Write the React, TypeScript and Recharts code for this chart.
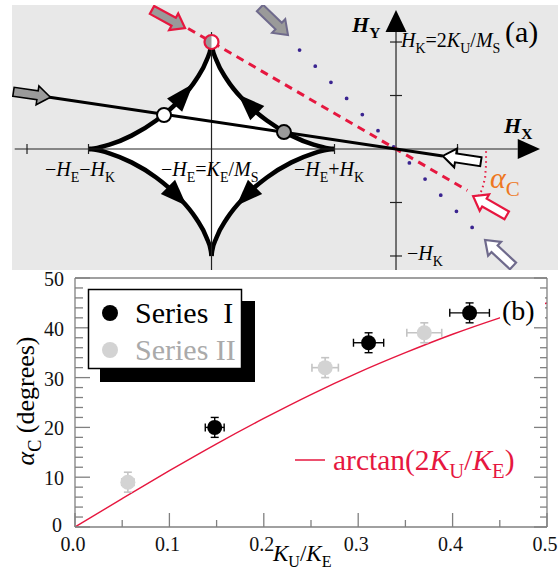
import React from 'react';
import { ComposedChart, Area, Line, Scatter, XAxis, YAxis, ErrorBar } from 'recharts';

const SERIF = "'Liberation Serif', 'Times New Roman', Times, serif";
const RED = '#e6173f';
const PURPLE = '#3a2490';
const SLATE = '#6f6a8c';
const ORANGE = '#ee7722';
const AXIS = '#808080';

// ---------- (a) field plane, in units of H_K (astroid centred on -H_E) ----------
const HE = -1.5;
const arcDx = [1, 0.955, 0.83, 0.65, 0.45, 0.266, 0.125, 0.04, 0.005, 0];
const arcDy = [0, 0.005, 0.04, 0.125, 0.266, 0.45, 0.65, 0.83, 0.955, 1];

const upperLeft = arcDx.map((d, i) => ({ x: HE - d, y: arcDy[i] }));
const upperRight = arcDx.map((d, i) => ({ x: HE + d, y: arcDy[i] })).reverse();
const lowerLeft = upperLeft.map((p) => ({ x: p.x, y: -p.y }));
const lowerRight = upperRight.map((p) => ({ x: p.x, y: -p.y }));
const arcs = [upperLeft, upperRight, lowerLeft, lowerRight];

const hxAxisLine = [{ x: -3.1, y: 0 }, { x: 0.99, y: 0 }];
const hyAxisLine = [{ x: 0, y: -1.131 }, { x: 0, y: 1.093 }];
const centreLine = [{ x: HE, y: -1.131 }, { x: HE, y: 1.093 }];
const hxTicks = [-3, -2.5, -0.5, 0.5].map((x) => ({ x, y: 0 }));
const hyTicks = [1, 0.5, -0.5, -1].map((y) => ({ x: 0, y }));

const fieldPath = [{ x: -2.83, y: 0.487 }, { x: 0.38, y: -0.065 }];
const criticalPath = [{ x: -1.69, y: 1.127 }, { x: 0.58, y: -0.387 }];
const steepPath = [{ x: -0.784, y: 0.925 }, { x: 0.621, y: -0.736 }];
const alphaArc = [
  { x: 0.732, y: -0.02 }, { x: 0.732, y: -0.15 }, { x: 0.724, y: -0.27 },
  { x: 0.7, y: -0.38 }, { x: 0.67, y: -0.44 },
];

const whiteDot = [{ x: -1.886, y: 0.318 }];
const greyDot = [{ x: -0.911, y: 0.158 }];
const cuspDot = [{ x: HE, y: 1 }];

// base -> tip of the sweep arrowheads on the astroid
const sweepHeads = [
  [{ x: -1.8, y: 0.41 }, { x: -1.649, y: 0.61 }],
  [{ x: -1.128, y: 0.335 }, { x: -1.282, y: 0.509 }],
  [{ x: -1.854, y: -0.354 }, { x: -1.703, y: -0.53 }],
  [{ x: -1.146, y: -0.354 }, { x: -1.297, y: -0.53 }],
];
const hxHead = [{ x: 0.99, y: 0 }, { x: 1.171, y: 0 }];
const hyHead = [{ x: 0, y: 1.093 }, { x: 0, y: 1.299 }];

// tail -> tip of the field-direction block arrows
const arrowLeft = [{ x: -3.11, y: 0.535 }, { x: -2.81, y: 0.484 }];
const arrowRight = [{ x: 0.69, y: -0.119 }, { x: 0.38, y: -0.065 }];
const arrowRedTop = [{ x: -1.984, y: 1.3 }, { x: -1.715, y: 1.131 }];
const arrowRedLow = [{ x: 0.9, y: -0.62 }, { x: 0.627, y: -0.44 }];
const arrowSlateTop = [{ x: -1.106, y: 1.318 }, { x: -0.878, y: 1.065 }];
const arrowSlateLow = [{ x: 0.951, y: -1.093 }, { x: 0.724, y: -0.85 }];

// ---------- (b) critical angle vs K_U/K_E ----------
const kTicks = [0, 0.05, 0.1, 0.15, 0.2, 0.25, 0.3, 0.35, 0.4, 0.45, 0.5];
const aTicks = [0, 2, 4, 6, 8, 10, 12, 14, 16, 18, 20, 22, 24, 26, 28, 30, 32, 34, 36, 38, 40, 42, 44, 46, 48, 50];

const kSeriesI = [0.148, 0.311, 0.418];
const alphaSeriesI = [20, 37, 43];
const kErrSeriesI = [0.01, 0.016, 0.021];
const kSeriesII = [0.056, 0.265, 0.37];
const alphaSeriesII = [9, 32, 39];
const kErrSeriesII = [0.0065, 0.014, 0.0185];
const alphaErr = 2;

const fitK = [0, 0.05, 0.1, 0.15, 0.2, 0.25, 0.3, 0.35, 0.4, 0.45, 0.5];
const fitAlpha = [0, 5.7, 11.3, 16.7, 21.8, 26.6, 31.0, 35.0, 38.7, 42.0, 45.0];

const seriesI = kSeriesI.map((x, i) => ({ x, y: alphaSeriesI[i], ex: kErrSeriesI[i], ey: alphaErr }));
const seriesII = kSeriesII.map((x, i) => ({ x, y: alphaSeriesII[i], ex: kErrSeriesII[i], ey: alphaErr }));
const fit = fitK.map((x, i) => ({ x, y: fitAlpha[i] }));

// ---------- helpers ----------
type Seg = [string, string?];

function Rich({ x, y, size, segs, fill = '#000', anchor = 'start', rotate, drop = 0.28 }: any) {
  const shift = size * drop;
  let low = false;
  return (
    <text
      x={x}
      y={y}
      fontSize={size}
      fill={fill}
      fontFamily={SERIF}
      textAnchor={anchor}
      transform={rotate ? `rotate(${rotate} ${x} ${y})` : undefined}
    >
      {(segs as Seg[]).map(([t, s = ''], k) => {
        const sub = s.includes('s');
        const dy = sub && !low ? shift : !sub && low ? -shift : 0;
        low = sub;
        return (
          <tspan
            key={k}
            dy={dy || undefined}
            fontSize={sub ? size * 0.7 : size}
            fontStyle={s.includes('i') ? 'italic' : 'normal'}
            fontWeight={s.includes('b') ? 'bold' : 'normal'}
          >
            {t}
          </tspan>
        );
      })}
    </text>
  );
}

const NoMark = () => <g />;

const blockArrow = (fill: string, stroke: string, sw = 2) => (p: any) => {
  const [a, b] = p.points;
  const dx = b.x - a.x;
  const dy = b.y - a.y;
  const L = Math.hypot(dx, dy) || 1;
  const ux = dx / L, uy = dy / L;
  const nx = -uy, ny = ux;
  const bw = 4.5, hw = 9.5, hl = 13;
  const at = (s: number, w: number) => `${a.x + ux * s + nx * w},${a.y + uy * s + ny * w}`;
  const pts = [at(0, bw), at(L - hl, bw), at(L - hl, hw), at(L, 0), at(L - hl, -hw), at(L - hl, -bw), at(0, -bw)].join(' ');
  return <polygon points={pts} fill={fill} stroke={stroke} strokeWidth={sw} />;
};

const triHead = (half: number) => (p: any) => {
  const [a, b] = p.points;
  const dx = b.x - a.x;
  const dy = b.y - a.y;
  const L = Math.hypot(dx, dy) || 1;
  const nx = (-dy / L) * half, ny = (dx / L) * half;
  return <polygon points={`${a.x + nx},${a.y + ny} ${b.x},${b.y} ${a.x - nx},${a.y - ny}`} fill="#000" />;
};

const HxTick = (p: any) => <line x1={p.cx} x2={p.cx} y1={p.cy - 5} y2={p.cy + 5} stroke="#222" strokeWidth={1.2} />;
const HyTick = (p: any) => <line x1={p.cx - 6} x2={p.cx + 6} y1={p.cy} y2={p.cy} stroke="#222" strokeWidth={1.2} />;

const OpenDot = (fill: string) => (p: any) => (
  <circle cx={p.cx} cy={p.cy} r={7} fill={fill} stroke="#000" strokeWidth={2} />
);

const CuspRing = (p: any) => (
  <g>
    <circle cx={p.cx} cy={p.cy} r={7} fill="#fff" />
    <path d={`M${p.cx},${p.cy - 7} A7,7 0 0 0 ${p.cx},${p.cy + 7} Z`} fill="#999" />
    <circle cx={p.cx} cy={p.cy} r={7} fill="none" stroke={RED} strokeWidth={2.2} />
  </g>
);

const plain = { dot: false, activeDot: false, isAnimationActive: false, type: 'linear' as const };

function PanelA() {
  return (
    <ComposedChart width={546} height={265} margin={{ top: 0, right: 0, bottom: 0, left: 0 }}>
      <XAxis type="number" dataKey="x" domain={[-3.122, 1.317]} allowDataOverflow hide />
      <YAxis type="number" domain={[-1.131, 1.346]} allowDataOverflow hide width={0} />
      {arcs.map((d, k) => (
        <Area
          key={k}
          data={d}
          dataKey="y"
          type="monotone"
          baseValue={0}
          fill="#fff"
          fillOpacity={1}
          stroke="#000"
          strokeWidth={4.5}
          dot={false}
          activeDot={false}
          isAnimationActive={false}
        />
      ))}
      <Line data={hxAxisLine} dataKey="y" stroke="#222" strokeWidth={1.2} {...plain} />
      <Line data={hyAxisLine} dataKey="y" stroke="#222" strokeWidth={1.2} {...plain} />
      <Line data={centreLine} dataKey="y" stroke="#222" strokeWidth={1.2} {...plain} />
      <Line data={steepPath} dataKey="y" stroke={PURPLE} strokeWidth={3.8} strokeDasharray="0 22.5" strokeLinecap="round" {...plain} />
      <Line data={criticalPath} dataKey="y" stroke={RED} strokeWidth={3} strokeDasharray="8 6" {...plain} />
      <Line data={alphaArc} dataKey="y" stroke={RED} strokeWidth={2} strokeDasharray="1.5 3.5" {...plain} />
      <Line data={fieldPath} dataKey="y" stroke="#000" strokeWidth={3} {...plain} />

      <Scatter data={hxTicks} dataKey="y" shape={HxTick} isAnimationActive={false} />
      <Scatter data={hyTicks} dataKey="y" shape={HyTick} isAnimationActive={false} />
      <Scatter data={hxHead} dataKey="y" shape={NoMark} line={triHead(10)} isAnimationActive={false} />
      <Scatter data={hyHead} dataKey="y" shape={NoMark} line={triHead(10.5)} isAnimationActive={false} />
      {sweepHeads.map((d, k) => (
        <Scatter key={k} data={d} dataKey="y" shape={NoMark} line={triHead(10)} isAnimationActive={false} />
      ))}
      <Scatter data={whiteDot} dataKey="y" shape={OpenDot('#fff')} isAnimationActive={false} />
      <Scatter data={greyDot} dataKey="y" shape={OpenDot('#9a9a9a')} isAnimationActive={false} />
      <Scatter data={cuspDot} dataKey="y" shape={CuspRing} isAnimationActive={false} />

      <Scatter data={arrowLeft} dataKey="y" shape={NoMark} line={blockArrow('#9a9a9a', '#000', 1.6)} isAnimationActive={false} />
      <Scatter data={arrowRight} dataKey="y" shape={NoMark} line={blockArrow('#fff', '#000', 2)} isAnimationActive={false} />
      <Scatter data={arrowRedTop} dataKey="y" shape={NoMark} line={blockArrow('#9a9a9a', RED, 2.2)} isAnimationActive={false} />
      <Scatter data={arrowRedLow} dataKey="y" shape={NoMark} line={blockArrow('#fff', RED, 2.2)} isAnimationActive={false} />
      <Scatter data={arrowSlateTop} dataKey="y" shape={NoMark} line={blockArrow('#9a9a9a', SLATE, 2)} isAnimationActive={false} />
      <Scatter data={arrowSlateLow} dataKey="y" shape={NoMark} line={blockArrow('#fff', SLATE, 2.2)} isAnimationActive={false} />
    </ComposedChart>
  );
}

const isMajorK = (v: number) => Math.round(v * 100) % 10 === 0;
const isMajorA = (v: number) => v % 10 === 0;

const BottomTick = (p: any) => {
  const v = p.payload.value;
  const major = isMajorK(v);
  return (
    <g>
      <line x1={p.x} x2={p.x} y1={p.y} y2={p.y - (major ? 14 : 7)} stroke={AXIS} strokeWidth={1.3} />
      {major && (
        <text x={p.x - 2} y={p.y + 24} textAnchor="middle" fontSize={20} fontFamily={SERIF} fill="#111">
          {v.toFixed(1)}
        </text>
      )}
    </g>
  );
};
const TopTick = (p: any) => (
  <line x1={p.x} x2={p.x} y1={p.y} y2={p.y + (isMajorK(p.payload.value) ? 14 : 7)} stroke={AXIS} strokeWidth={1.3} />
);
const LeftTick = (p: any) => {
  const v = p.payload.value;
  const major = isMajorA(v);
  return (
    <g>
      <line x1={p.x} x2={p.x + (major ? 15 : 8)} y1={p.y} y2={p.y} stroke={AXIS} strokeWidth={1.3} />
      {major && (
        <text x={p.x - (v === 0 ? 13 : 11)} y={p.y + (v === 0 ? 5 : 8)} textAnchor="end" fontSize={20} fontFamily={SERIF} fill="#111">
          {v}
        </text>
      )}
    </g>
  );
};
const RightTick = (p: any) => (
  <line x1={p.x} x2={p.x - (isMajorA(p.payload.value) ? 13 : 7)} y1={p.y} y2={p.y} stroke={AXIS} strokeWidth={1.3} />
);

const PointI = (p: any) => <circle cx={p.cx} cy={p.cy} r={7.5} fill="#000" />;
const PointII = (p: any) => <circle cx={p.cx} cy={p.cy} r={7.5} fill="#d3d3d3" />;

function PanelB() {
  const frame = { stroke: AXIS, strokeWidth: 1.3 };
  const shared = { type: 'number' as const, interval: 0 as const, tickSize: 0, tickMargin: 0, tickLine: false, axisLine: frame, allowDataOverflow: true };
  return (
    <ComposedChart width={558} height={313} margin={{ top: 19, right: 10, bottom: 43, left: 74 }}>
      <XAxis dataKey="x" domain={[0, 0.5]} ticks={kTicks} height={1} tick={BottomTick} {...shared} />
      <XAxis xAxisId="top" orientation="top" domain={[0, 0.5]} ticks={kTicks} height={1} tick={TopTick} {...shared} />
      <YAxis domain={[0, 50]} ticks={aTicks} width={1} tick={LeftTick} {...shared} />
      <YAxis yAxisId="right" orientation="right" domain={[0, 50]} ticks={aTicks} width={1} tick={RightTick} {...shared} />
      <Line data={fit} dataKey="y" type="monotone" stroke={RED} strokeWidth={1.4} dot={false} activeDot={false} isAnimationActive={false} />
      <Scatter data={seriesII} dataKey="y" shape={PointII} isAnimationActive={false}>
        <ErrorBar dataKey="ex" direction="x" width={4} stroke="#c4c4c4" strokeWidth={1.6} />
        <ErrorBar dataKey="ey" direction="y" width={4} stroke="#c4c4c4" strokeWidth={1.6} />
      </Scatter>
      <Scatter data={seriesI} dataKey="y" shape={PointI} isAnimationActive={false}>
        <ErrorBar dataKey="ex" direction="x" width={4} stroke="#000" strokeWidth={1.4} />
        <ErrorBar dataKey="ey" direction="y" width={4} stroke="#000" strokeWidth={1.4} />
      </Scatter>
    </ComposedChart>
  );
}

export default function App() {
  return (
    <div style={{ position: 'absolute', left: 0, top: 0, width: 558, height: 571, background: '#fff', overflow: 'hidden', fontFamily: SERIF }}>
      <div style={{ position: 'absolute', left: 12, top: 5, width: 546, height: 265, background: '#e8e8e8' }}>
        <PanelA />
      </div>
      <div style={{ position: 'absolute', left: 0, top: 258, width: 558, height: 313 }}>
        <PanelB />
      </div>
      <svg width={558} height={571} style={{ position: 'absolute', left: 0, top: 0, pointerEvents: 'none', fontFamily: SERIF }}>
        {/* (a) labels */}
        <Rich x={45} y={176} size={20} segs={[['−'], ['H', 'i'], ['E', 's'], ['−'], ['H', 'i'], ['K', 's']]} />
        <Rich x={161} y={176} size={20} segs={[['−'], ['H', 'i'], ['E', 's'], ['='], ['K', 'i'], ['E', 's'], ['/'], ['M', 'i'], ['S', 's']]} />
        <Rich x={294} y={176} size={20} segs={[['−'], ['H', 'i'], ['E', 's'], ['+'], ['H', 'i'], ['K', 's']]} />
        <Rich x={401} y={47} size={20} segs={[['H', 'i'], ['K', 's'], ['=2'], ['K', 'i'], ['U', 's'], ['/'], ['M', 'i'], ['S', 's']]} />
        <Rich x={407} y={260} size={20} segs={[['−'], ['H', 'i'], ['K', 's']]} />
        <Rich x={352} y={32} size={22} segs={[['H', 'bi'], ['Y', 'bs']]} />
        <Rich x={504} y={133} size={22} segs={[['H', 'bi'], ['X', 'bs']]} />
        <Rich x={490} y={188} size={30} fill={ORANGE} segs={[['α', 'i'], ['C', 's']]} />
        <text x={505} y={42} fontSize={30} fontFamily={SERIF}>(a)</text>

        {/* (b) labels */}
        <Rich x={34} y={401} size={26} anchor="middle" rotate={-90} segs={[['α', 'i'], ['C', 's'], [' (degrees)']]} />
        <Rich x={273} y={561} size={23} drop={0.24} segs={[['K', 'i'], ['U', 's'], ['/'], ['K', 'i'], ['E', 's']]} />
        <rect x={500} y={296} width={45} height={30} fill="#fff" />
        <text x={502} y={320} fontSize={28} fontFamily={SERIF}>(b)</text>

        <rect x={100} y={301} width={155} height={81} fill="#000" />
        <rect x={88.5} y={289.5} width={153} height={79} fill="#fff" stroke="#000" strokeWidth={1.5} />
        <circle cx={110} cy={313} r={8} fill="#000" />
        <text x={135} y={323} fontSize={30} fontFamily={SERIF}>Series{'\u2002'}I</text>
        <circle cx={110} cy={350} r={8} fill="#d3d3d3" />
        <text x={135} y={360} fontSize={30} fontFamily={SERIF} fill="#aaa">Series II</text>

        <line x1={295} x2={325} y1={460} y2={460} stroke={RED} strokeWidth={1.5} />
        <Rich x={333} y={470} size={29.5} fill={RED} segs={[['arctan(2'], ['K', 'i'], ['U', 's'], ['/'], ['K', 'i'], ['E', 's'], [')']]} />
      </svg>
    </div>
  );
}
